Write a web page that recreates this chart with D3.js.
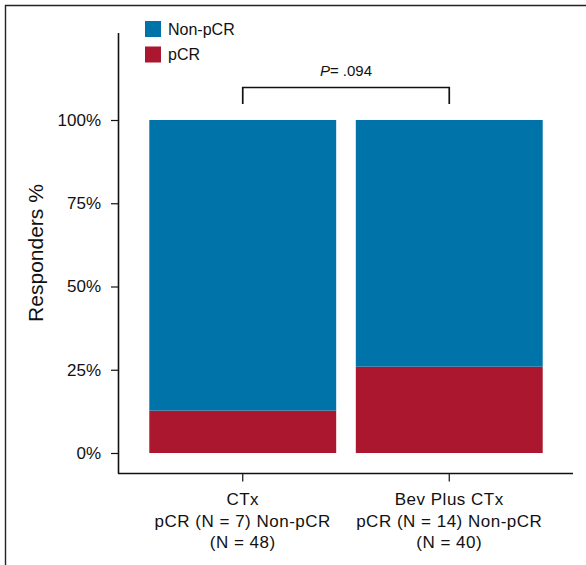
<!DOCTYPE html>
<html>
<head>
<meta charset="utf-8">
<script src="https://cdn.jsdelivr.net/npm/d3@7"></script>
<style>
  body { margin: 0; background: #fff; }
  svg { font-family: "Liberation Sans", Arial, Helvetica, sans-serif; }
</style>
</head>
<body>
<svg id="chart" width="586" height="565"></svg>
<script>
const groups = ['CTx', 'Bev Plus CTx']
const groupLines = [
  ['CTx', 'pCR (N = 7) Non-pCR', '(N = 48)'],
  ['Bev Plus CTx', 'pCR (N = 14) Non-pCR', '(N = 40)']
]
const pcrCounts = [7, 14]
const nonPcrCounts = [48, 40]
const yTicks = [0, 25, 50, 75, 100]
const seriesNames = ['Non-pCR', 'pCR']
const seriesColors = ['#0074a8', '#aa172e']
const pValueText = '.094'

const svg = d3.select('#chart')

// outer frame
svg.append('path')
  .attr('d', 'M5.5,600V5.5H600')
  .attr('fill', 'none')
  .attr('stroke', '#222')
  .attr('stroke-width', 1.4)

const x = d3.scaleBand().domain(groups).range([140, 552]).paddingInner(0.095).paddingOuter(0.045)
const y = d3.scaleLinear().domain([0, 100]).range([453, 120])

const rows = groups.map((g, i) => {
  const total = pcrCounts[i] + nonPcrCounts[i]
  return { group: g, pCR: pcrCounts[i] / total * 100, nonPCR: nonPcrCounts[i] / total * 100 }
})

const stack = d3.stack().keys(['pCR', 'nonPCR'])(rows)
const colorFor = { pCR: seriesColors[1], nonPCR: seriesColors[0] }

svg.append('g').selectAll('g')
  .data(stack)
  .join('g')
  .attr('fill', d => colorFor[d.key])
  .selectAll('rect')
  .data(d => d)
  .join('rect')
  .attr('x', d => x(d.data.group))
  .attr('width', x.bandwidth())
  .attr('y', d => y(d[1]))
  .attr('height', d => y(d[0]) - y(d[1]))

// y axis
const yAxis = svg.append('g')
  .attr('transform', 'translate(118,0)')
  .call(d3.axisLeft(y).tickValues(yTicks).tickFormat(d => d + '%').tickSize(7).tickSizeOuter(0))
yAxis.select('.domain').attr('d', 'M0.5,33V473.5').attr('stroke', '#111').attr('stroke-width', 1.6)
yAxis.selectAll('.tick line').attr('stroke', '#111').attr('stroke-width', 1.2)
yAxis.selectAll('.tick text').attr('font-size', 17).attr('fill', '#111').attr('x', -17)

// x axis
const xAxis = svg.append('g')
  .attr('transform', 'translate(0,473.5)')
  .call(d3.axisBottom(x).tickSize(8).tickSizeOuter(0).tickFormat(''))
xAxis.select('.domain').attr('d', 'M118,0H573').attr('stroke', '#111').attr('stroke-width', 1.6)
xAxis.selectAll('.tick line').attr('stroke', '#111').attr('stroke-width', 1.2)

groups.forEach((g, i) => {
  const t = svg.append('text')
    .attr('text-anchor', 'middle')
    .attr('font-size', 17)
    .attr('letter-spacing', 0.5)
    .attr('fill', '#111')
  groupLines[i].forEach((line, j) => {
    t.append('tspan')
      .attr('x', x(g) + x.bandwidth() / 2)
      .attr('y', 505 + j * 21.5)
      .text(line)
  })
})

// y title
svg.append('text')
  .attr('transform', 'translate(43,253) rotate(-90)')
  .attr('text-anchor', 'middle')
  .attr('font-size', 21)
  .attr('fill', '#111')
  .text('Responders %')

// legend
const legend = svg.append('g').attr('transform', 'translate(145,21)')
seriesNames.forEach((name, i) => {
  legend.append('rect')
    .attr('x', 0).attr('y', i * 25.5)
    .attr('width', 16).attr('height', 16)
    .attr('fill', seriesColors[i])
  legend.append('text')
    .attr('x', 23).attr('y', i * 25.5 + 13.5)
    .attr('font-size', 16)
    .attr('fill', '#111')
    .text(name)
})

// significance bracket
const cx0 = x(groups[0]) + x.bandwidth() / 2
const cx1 = x(groups[1]) + x.bandwidth() / 2
svg.append('path')
  .attr('d', `M${cx0},104V87.5H${cx1}V104`)
  .attr('fill', 'none')
  .attr('stroke', '#111')
  .attr('stroke-width', 1.7)
const pt = svg.append('text')
  .attr('x', (cx0 + cx1) / 2)
  .attr('y', 76)
  .attr('text-anchor', 'middle')
  .attr('font-size', 15)
  .attr('fill', '#111')
pt.append('tspan').attr('font-style', 'italic').text('P')
pt.append('tspan').text('= ' + pValueText)
</script>
</body>
</html>
